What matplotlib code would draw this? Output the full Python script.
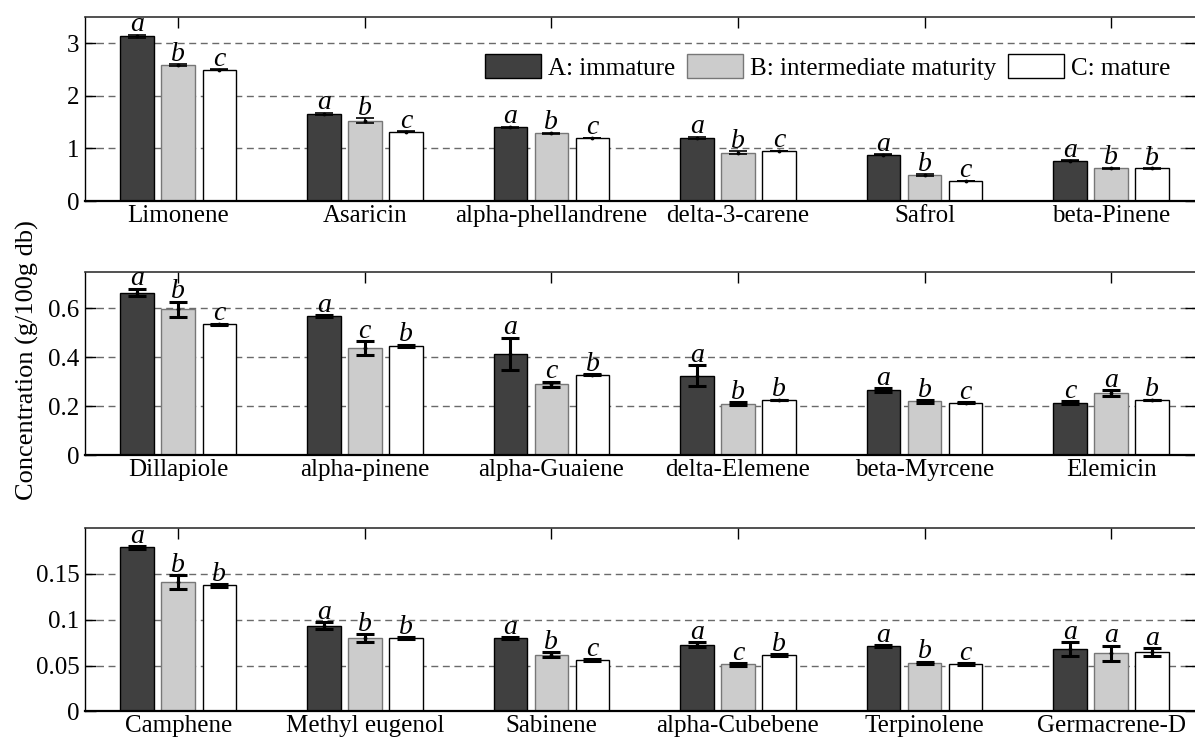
import matplotlib
matplotlib.use('Agg')
import matplotlib.pyplot as plt
from matplotlib.patches import Patch
import numpy as np

plt.rcParams['font.family'] = ['Liberation Serif', 'DejaVu Serif']
plt.rcParams['font.size'] = 18

# 上段 (g/100g db)
names1 = ['Limonene', 'Asaricin', 'alpha-phellandrene', 'delta-3-carene', 'Safrol', 'beta-Pinene']
mean1_A = [3.13, 1.66, 1.40, 1.20, 0.88, 0.77]
mean1_B = [2.58, 1.53, 1.29, 0.92, 0.49, 0.62]
mean1_C = [2.50, 1.32, 1.20, 0.95, 0.38, 0.62]
sd1_A = [0.03, 0.02, 0.015, 0.02, 0.01, 0.005]
sd1_B = [0.02, 0.04, 0.01, 0.03, 0.015, 0.01]
sd1_C = [0.003, 0.003, 0.005, 0.005, 0.005, 0.005]
let1_A = ['a', 'a', 'a', 'a', 'a', 'a']
let1_B = ['b', 'b', 'b', 'b', 'b', 'b']
let1_C = ['c', 'c', 'c', 'c', 'c', 'b']

# 中段
names2 = ['Dillapiole', 'alpha-pinene', 'alpha-Guaiene', 'delta-Elemene', 'beta-Myrcene', 'Elemicin']
mean2_A = [0.665, 0.568, 0.415, 0.325, 0.265, 0.215]
mean2_B = [0.597, 0.438, 0.290, 0.210, 0.220, 0.254]
mean2_C = [0.535, 0.448, 0.330, 0.226, 0.214, 0.226]
sd2_A = [0.015, 0.005, 0.066, 0.043, 0.008, 0.007]
sd2_B = [0.030, 0.027, 0.010, 0.006, 0.005, 0.012]
sd2_C = [0.002, 0.004, 0.002, 0.002, 0.002, 0.002]
let2_A = ['a', 'a', 'a', 'a', 'a', 'c']
let2_B = ['b', 'c', 'c', 'b', 'b', 'a']
let2_C = ['c', 'b', 'b', 'b', 'c', 'b']

# 下段
names3 = ['Camphene', 'Methyl eugenol', 'Sabinene', 'alpha-Cubebene', 'Terpinolene', 'Germacrene-D']
mean3_A = [0.179, 0.0935, 0.0800, 0.0725, 0.0712, 0.0680]
mean3_B = [0.141, 0.0800, 0.0617, 0.0513, 0.0530, 0.0633]
mean3_C = [0.1375, 0.0803, 0.0557, 0.0617, 0.0513, 0.0647]
sd3_A = [0.0015, 0.0038, 0.0010, 0.0028, 0.0010, 0.0073]
sd3_B = [0.0078, 0.0040, 0.0028, 0.0013, 0.0010, 0.0082]
sd3_C = [0.0012, 0.0008, 0.0012, 0.0008, 0.0012, 0.0040]
let3_A = ['a', 'a', 'a', 'a', 'a', 'a']
let3_B = ['b', 'b', 'b', 'c', 'b', 'a']
let3_C = ['b', 'b', 'c', 'b', 'c', 'a']

yticks1 = [0, 1, 2, 3]
yticks2 = [0, 0.2, 0.4, 0.6]
yticks3 = [0, 0.05, 0.1, 0.15]
ylabels1 = ['0', '1', '2', '3']
ylabels2 = ['0', '0.2', '0.4', '0.6']
ylabels3 = ['0', '0.05', '0.1', '0.15']

series = ['A: immature', 'B: intermediate maturity', 'C: mature']
faces = ['#404040', '#cccccc', '#ffffff']
edges = ['#000000', '#777777', '#000000']
width = 0.18
step = 0.22


def draw(ax, names, means, sds, lets, ymax, ticks, ticklabels, elw):
    x = np.arange(1, len(names) + 1)
    for k in range(3):
        xs = x + (k - 1) * step
        ax.bar(xs, means[k], width, color=faces[k], edgecolor=edges[k], linewidth=1, zorder=2)
        ax.errorbar(xs, means[k], yerr=sds[k], fmt='.', color='k', ms=3.5,
                    elinewidth=elw, capsize=6.5, capthick=elw, zorder=3)
        for xi, m, s, t in zip(xs, means[k], sds[k], lets[k]):
            ax.annotate(t, (xi, m + s), xytext=(0, 2.5), textcoords='offset points',
                        ha='center', va='baseline', style='italic', fontsize=20, zorder=4)
    ax.set_xlim(0.5, 6.455)
    ax.set_ylim(0, ymax)
    ax.set_xticks(x)
    ax.set_xticklabels(names)
    ax.set_yticks(ticks)
    ax.set_yticklabels(ticklabels)
    ax.set_axisbelow(True)
    ax.yaxis.grid(True, linestyle=(0, (5, 3.3)), color='#6a6a6a', linewidth=1)
    ax.tick_params(axis='y', direction='in', left=True, right=True, length=8, width=1, pad=4)
    ax.tick_params(axis='x', direction='in', bottom=False, top=True, length=8, width=1, pad=3)
    ax.spines['top'].set_color('#333333')
    ax.spines['top'].set_linewidth(1.2)
    ax.spines['bottom'].set_linewidth(1.6)
    ax.spines['left'].set_linewidth(1)


fig = plt.figure(figsize=(11.95, 7.44), dpi=100)
ax1 = fig.add_axes([0.0711, 0.7298, 0.9297, 0.2473])
ax2 = fig.add_axes([0.0711, 0.3880, 0.9297, 0.2468])
ax3 = fig.add_axes([0.0711, 0.0440, 0.9297, 0.2460])

draw(ax1, names1, [mean1_A, mean1_B, mean1_C], [sd1_A, sd1_B, sd1_C],
     [let1_A, let1_B, let1_C], 3.5, yticks1, ylabels1, 1.2)
draw(ax2, names2, [mean2_A, mean2_B, mean2_C], [sd2_A, sd2_B, sd2_C],
     [let2_A, let2_B, let2_C], 0.75, yticks2, ylabels2, 2.2)
draw(ax3, names3, [mean3_A, mean3_B, mean3_C], [sd3_A, sd3_B, sd3_C],
     [let3_A, let3_B, let3_C], 0.2, yticks3, ylabels3, 2.2)

# 凡例
handles = [Patch(facecolor=faces[k], edgecolor=edges[k], linewidth=1) for k in range(3)]
ax1.legend(handles, series, loc='center left', bbox_to_anchor=(0.3598, 0.728), ncol=3,
           frameon=False, borderpad=0, borderaxespad=0, handlelength=2.24, handleheight=1.08,
           handletextpad=0.3, columnspacing=0.45, fontsize=18)

fig.text(0.023, 1 - 360 / 744, 'Concentration (g/100g db)', rotation=90,
         ha='center', va='center', fontsize=19)

fig.savefig('out.png', dpi=100)
